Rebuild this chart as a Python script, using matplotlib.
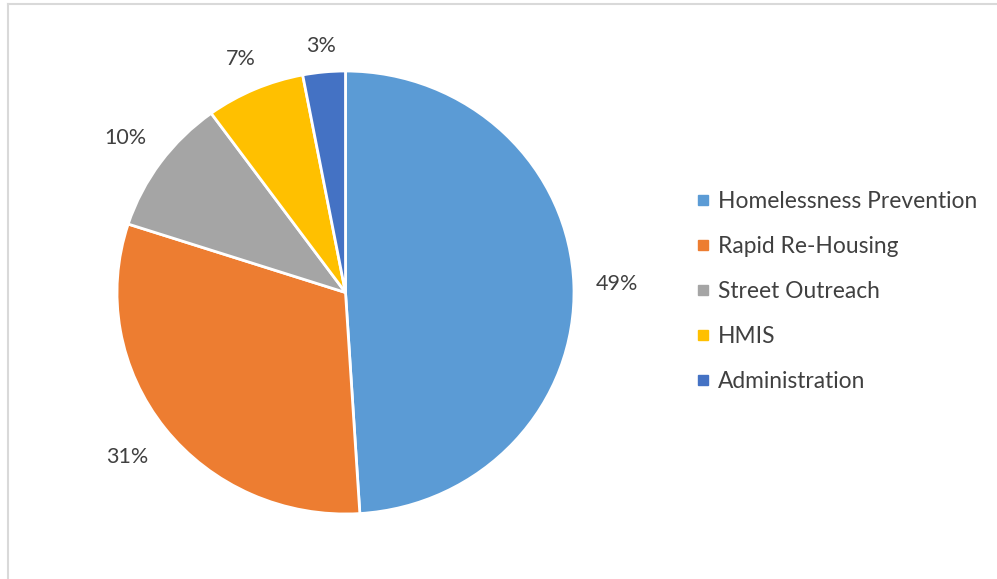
import numpy as np
import matplotlib.pyplot as plt
from matplotlib.lines import Line2D

categories = ['Homelessness Prevention', 'Rapid Re-Housing', 'Street Outreach', 'HMIS', 'Administration']
shares = [49, 31, 10, 7, 3]
colors = ['#5B9BD5', '#ED7D31', '#A5A5A5', '#FFC000', '#4472C4']
label_dist = [1.19, 1.21, 1.19, 1.15, 1.12]

plt.rcParams['font.family'] = ['Lato', 'DejaVu Sans']
text_color = '#404040'

fig = plt.figure(figsize=(9.97, 5.79), dpi=100)
W, H = 997, 579

# pie area in pixels: x 117..574, y 71..514
ax = fig.add_axes([117 / W, 1 - 514 / H, 457 / W, 443 / H])
wedges, texts, autotexts = ax.pie(
    shares, colors=colors, startangle=90, counterclock=False,
    autopct='%d%%', pctdistance=1.19,
    wedgeprops=dict(edgecolor='white', linewidth=2),
    textprops=dict(color=text_color, fontsize=15.5))
ax.set_aspect('auto')
ax.set_xlim(-1, 1)
ax.set_ylim(-1, 1)

# nudge the percentage labels out to their own distances
for w, t, d in zip(wedges, autotexts, label_dist):
    mid = np.deg2rad((w.theta1 + w.theta2) / 2)
    t.set_position((d * np.cos(mid), d * np.sin(mid)))

handles = [Line2D([], [], marker='s', linestyle='', color=c, markersize=6.5) for c in colors]
fig.legend(handles, categories, loc='center left', bbox_to_anchor=(685 / W, 1 - 291.5 / H),
           frameon=False, borderpad=0, handlelength=0.6, handletextpad=0.35,
           labelspacing=1.06, prop=dict(size=16.4), labelcolor=text_color)

# thin chart border on the top and left
fig.add_artist(Line2D([8 / W, 8 / W], [0, 1 - 4 / H], transform=fig.transFigure, color='#d9d9d9', lw=1.5))
fig.add_artist(Line2D([8 / W, 1], [1 - 4 / H, 1 - 4 / H], transform=fig.transFigure, color='#d9d9d9', lw=1.5))

fig.savefig('out.png', dpi=100)
